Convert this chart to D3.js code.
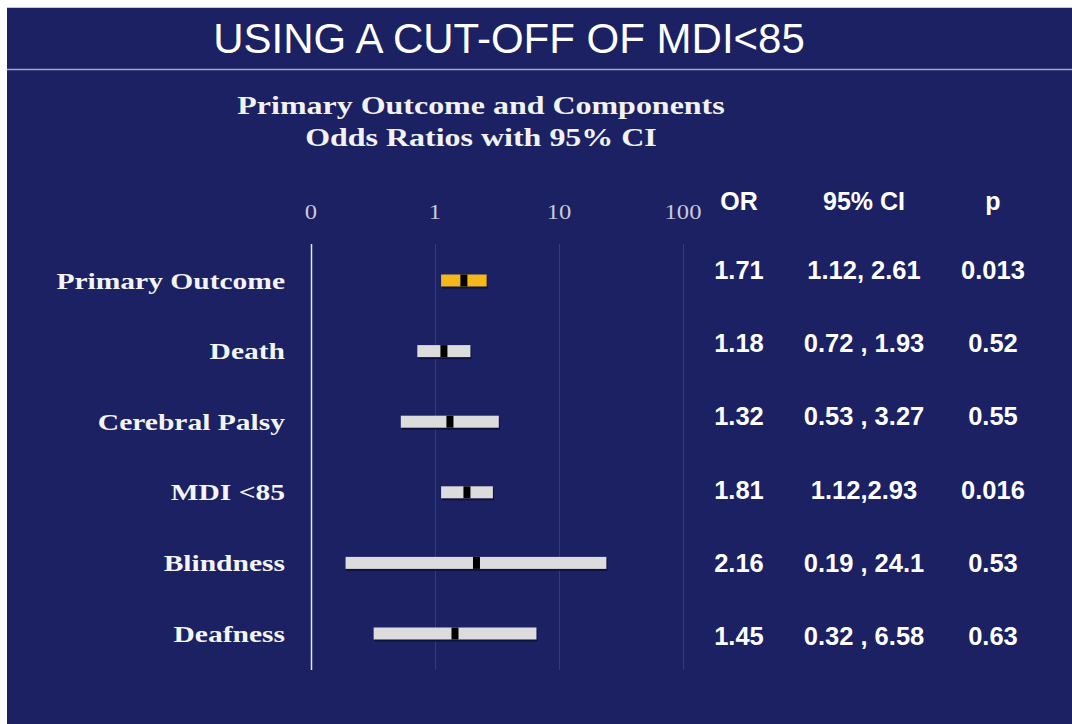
<!DOCTYPE html>
<html>
<head>
<meta charset="utf-8">
<script src="https://cdn.jsdelivr.net/npm/d3@7"></script>
<style>
  body { margin: 0; background: #fff; }
  svg { display: block; }
</style>
</head>
<body>
<div id="chart"></div>
<script>
var width = 1072,
    height = 724;

// Data
var outcomes = ["Primary Outcome", "Death", "Cerebral Palsy", "MDI <85", "Blindness", "Deafness"];
var oddsRatio = [1.71, 1.18, 1.32, 1.81, 2.16, 1.45];
var ciLow = [1.12, 0.72, 0.53, 1.12, 0.19, 0.32];
var ciHigh = [2.61, 1.93, 3.27, 2.93, 24.1, 6.58];
var ciText = ["1.12, 2.61", "0.72 , 1.93", "0.53 , 3.27", "1.12,2.93", "0.19 , 24.1", "0.32 , 6.58"];
var pText = ["0.013", "0.52", "0.55", "0.016", "0.53", "0.63"];
var tickValues = [0.1, 1, 10, 100];
var tickLabels = ["0", "1", "10", "100"];
var tableHeaders = ["OR", "95% CI", "p"];

var navy = "#1b2163";
var serif = "'Liberation Serif', 'Times New Roman', serif";
var sans = "'Liberation Sans', Arial, sans-serif";
var stretch = 1.23; // the slide's serif text is widened

var svg = d3.select("#chart")
  .append("svg")
  .attr("width", width)
  .attr("height", height);

// Background panel
svg.append("rect")
  .attr("x", 7).attr("y", 7)
  .attr("width", width - 7).attr("height", height - 7)
  .attr("fill", navy);
svg.append("line")
  .attr("x1", 7).attr("x2", width)
  .attr("y1", 7.5).attr("y2", 7.5)
  .attr("stroke", "#c4c5d2").attr("stroke-width", 1);
svg.append("line")
  .attr("x1", 7).attr("x2", width)
  .attr("y1", 69.5).attr("y2", 69.5)
  .attr("stroke", "#a3a6c8").attr("stroke-width", 1.5);

// Title
svg.append("text")
  .attr("x", 509).attr("y", 53)
  .attr("text-anchor", "middle")
  .attr("font-family", sans)
  .attr("font-size", 42)
  .attr("fill", "#fff")
  .text("USING A CUT-OFF OF MDI<85");

// helper for widened serif text
function serifText(x, y, str, size, anchor, weight, color) {
  return svg.append("text")
    .attr("transform", "translate(" + x + "," + y + ") scale(" + stretch + ",1)")
    .attr("text-anchor", anchor)
    .attr("font-family", serif)
    .attr("font-weight", weight)
    .attr("font-size", size)
    .attr("fill", color)
    .text(str);
}

serifText(481, 114, "Primary Outcome and Components", 26, "middle", "bold", "#f2f2f2");
serifText(481, 146, "Odds Ratios with 95% CI", 26, "middle", "bold", "#f2f2f2");

// Scales
var x = d3.scaleLog()
  .domain([0.1, 100])
  .range([311, 683]);

var y = d3.scalePoint()
  .domain(outcomes)
  .range([280.5, 633.5]);

var yTable = d3.scalePoint()
  .domain(outcomes)
  .range([270, 636]);

var plotTop = 244, plotBottom = 670;

// Grid
svg.append("g")
  .attr("class", "grid")
  .selectAll("line")
  .data(tickValues)
  .enter()
  .append("line")
  .attr("x1", function(d) { return x(d) + 0.5; })
  .attr("x2", function(d) { return x(d) + 0.5; })
  .attr("y1", plotTop)
  .attr("y2", plotBottom)
  .attr("stroke", function(d, i) { return i === 0 ? "#e8e8f0" : "#343b82"; })
  .attr("stroke-width", function(d, i) { return i === 0 ? 1.5 : 1; });

// Tick labels
tickValues.forEach(function(d, i) {
  serifText(x(d), 219, tickLabels[i], 20, "middle", "normal", "#c9cadb");
});

// Row labels
outcomes.forEach(function(d) {
  serifText(285, y(d) + 8, d, 24, "end", "bold", "#f4f4f4");
});

// Bars
var barH = 12;
var rows = outcomes.map(function(d, i) {
  return { name: d, or: oddsRatio[i], lo: ciLow[i], hi: ciHigh[i], i: i };
});

var bars = svg.append("g").attr("class", "bars");

bars.selectAll(".shadow")
  .data(rows)
  .enter()
  .append("rect")
  .attr("class", "shadow")
  .attr("x", function(d) { return x(d.lo) + 1; })
  .attr("y", function(d) { return y(d.name) - barH / 2 + 2; })
  .attr("width", function(d) { return x(d.hi) - x(d.lo); })
  .attr("height", barH)
  .attr("fill", "#0d1140");

bars.selectAll(".ci")
  .data(rows)
  .enter()
  .append("rect")
  .attr("class", "ci")
  .attr("x", function(d) { return x(d.lo); })
  .attr("y", function(d) { return y(d.name) - barH / 2; })
  .attr("width", function(d) { return x(d.hi) - x(d.lo); })
  .attr("height", barH)
  .attr("fill", function(d) { return d.i === 0 ? "#f4b81c" : "#dcdcdc"; });

bars.selectAll(".mark")
  .data(rows)
  .enter()
  .append("rect")
  .attr("class", "mark")
  .attr("x", function(d) { return x(d.or) - 3.5; })
  .attr("y", function(d) { return y(d.name) - barH / 2; })
  .attr("width", 7)
  .attr("height", barH)
  .attr("fill", "#000");

// Table
var colX = [739, 864, 993];
var fmt = d3.format(".2f");

svg.append("g")
  .selectAll("text")
  .data(tableHeaders)
  .enter()
  .append("text")
  .attr("x", function(d, i) { return colX[i]; })
  .attr("y", 210)
  .attr("text-anchor", "middle")
  .attr("font-family", sans)
  .attr("font-weight", "bold")
  .attr("font-size", 25)
  .attr("fill", "#fff")
  .text(function(d) { return d; });

var table = svg.append("g")
  .attr("font-family", sans)
  .attr("font-weight", "bold")
  .attr("font-size", 25.5)
  .attr("fill", "#fff")
  .attr("text-anchor", "middle");

rows.forEach(function(d) {
  var cells = [fmt(d.or), ciText[d.i], pText[d.i]];
  cells.forEach(function(c, j) {
    table.append("text")
      .attr("x", colX[j])
      .attr("y", yTable(d.name) + 9)
      .text(c);
  });
});
</script>
</body>
</html>
